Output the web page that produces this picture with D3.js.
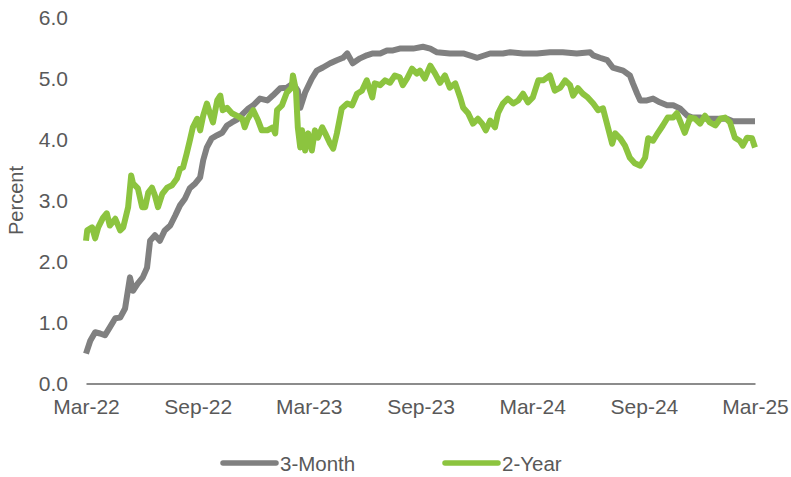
<!DOCTYPE html>
<html>
<head>
<meta charset="utf-8">
<script src="https://cdn.jsdelivr.net/npm/d3@7"></script>
<style>
  html, body { margin: 0; padding: 0; background: #fff; }
  svg text { font-family: "Liberation Sans", Arial, sans-serif; fill: #595959; }
</style>
</head>
<body>
<div id="wrapper"></div>
<script>
// 3-Month T-bill yield, percent
const threeMonth = [
  ["2022-03-31",0.49],["2022-04-07",0.70],["2022-04-15",0.84],["2022-04-23",0.82],["2022-05-01",0.79],
  ["2022-05-09",0.92],["2022-05-18",1.07],["2022-05-26",1.08],["2022-06-03",1.23],["2022-06-11",1.74],
  ["2022-06-16",1.52],["2022-06-24",1.64],["2022-07-02",1.74],["2022-07-09",1.90],["2022-07-14",2.34],
  ["2022-07-22",2.43],["2022-07-30",2.34],["2022-08-07",2.51],["2022-08-16",2.59],["2022-08-24",2.75],
  ["2022-09-01",2.92],["2022-09-09",3.03],["2022-09-17",3.20],["2022-09-26",3.28],["2022-10-04",3.38],
  ["2022-10-09",3.66],["2022-10-15",3.87],["2022-10-23",4.02],["2022-11-01",4.07],["2022-11-09",4.11],
  ["2022-11-17",4.23],["2022-11-25",4.28],["2022-12-04",4.33],["2022-12-13",4.42],["2022-12-21",4.50],
  ["2022-12-30",4.56],["2023-01-10",4.67],["2023-01-22",4.64],["2023-01-31",4.72],["2023-02-12",4.84],
  ["2023-02-23",4.85],["2023-03-05",4.92],["2023-03-13",4.80],["2023-03-17",4.52],["2023-03-25",4.77],
  ["2023-04-05",5.00],["2023-04-13",5.13],["2023-04-23",5.18],["2023-05-05",5.25],["2023-05-16",5.30],
  ["2023-05-26",5.34],["2023-06-02",5.41],["2023-06-11",5.25],["2023-06-23",5.33],["2023-07-04",5.38],
  ["2023-07-14",5.41],["2023-07-26",5.41],["2023-08-06",5.46],["2023-08-16",5.46],["2023-08-27",5.49],
  ["2023-09-08",5.49],["2023-09-18",5.49],["2023-10-04",5.52],["2023-10-16",5.49],["2023-10-27",5.43],
  ["2023-11-17",5.41],["2023-12-09",5.41],["2023-12-22",5.37],["2024-01-01",5.34],["2024-01-22",5.41],
  ["2024-02-12",5.41],["2024-02-24",5.43],["2024-03-16",5.41],["2024-04-08",5.41],["2024-04-29",5.43],
  ["2024-05-20",5.43],["2024-06-12",5.41],["2024-07-04",5.43],["2024-07-09",5.38],["2024-07-20",5.34],
  ["2024-08-01",5.30],["2024-08-10",5.18],["2024-08-27",5.13],["2024-09-07",5.05],["2024-09-12",4.92],
  ["2024-09-19",4.75],["2024-09-24",4.64],["2024-10-05",4.64],["2024-10-15",4.67],["2024-10-26",4.61],
  ["2024-11-07",4.56],["2024-11-17",4.56],["2024-11-28",4.51],["2024-12-10",4.39],["2024-12-19",4.36],
  ["2024-12-31",4.36],["2025-01-11",4.34],["2025-01-21",4.34],["2025-02-02",4.34],["2025-02-13",4.34],
  ["2025-02-23",4.30],["2025-03-06",4.30],["2025-03-31",4.30]
];

// 2-Year Treasury yield, percent
const twoYear = [
  ["2022-03-31",2.34],["2022-04-02",2.51],["2022-04-10",2.56],["2022-04-15",2.38],["2022-04-20",2.56],
  ["2022-04-28",2.72],["2022-05-04",2.79],["2022-05-09",2.59],["2022-05-18",2.70],["2022-05-26",2.51],
  ["2022-05-31",2.56],["2022-06-08",2.89],["2022-06-13",3.41],["2022-06-16",3.28],["2022-06-24",3.20],
  ["2022-07-01",2.89],["2022-07-06",2.89],["2022-07-11",3.13],["2022-07-17",3.21],["2022-07-22",3.08],
  ["2022-07-27",2.89],["2022-08-03",3.11],["2022-08-11",3.21],["2022-08-19",3.25],["2022-08-27",3.36],
  ["2022-09-01",3.52],["2022-09-06",3.54],["2022-09-12",3.77],["2022-09-17",3.98],["2022-09-22",4.20],
  ["2022-09-29",4.34],["2022-10-04",4.15],["2022-10-09",4.39],["2022-10-15",4.59],["2022-10-20",4.43],
  ["2022-10-25",4.28],["2022-11-01",4.64],["2022-11-06",4.72],["2022-11-10",4.48],["2022-11-17",4.52],
  ["2022-11-25",4.43],["2022-12-03",4.39],["2022-12-12",4.34],["2022-12-16",4.20],["2022-12-21",4.34],
  ["2022-12-30",4.48],["2023-01-07",4.31],["2023-01-13",4.15],["2023-01-22",4.15],["2023-01-31",4.20],
  ["2023-02-04",4.10],["2023-02-07",4.48],["2023-02-15",4.56],["2023-02-23",4.77],["2023-03-03",4.85],
  ["2023-03-05",5.05],["2023-03-10",4.80],["2023-03-13",4.20],["2023-03-17",3.87],["2023-03-20",4.15],
  ["2023-03-25",3.82],["2023-03-30",4.10],["2023-04-05",3.82],["2023-04-10",4.15],["2023-04-15",4.03],
  ["2023-04-22",4.20],["2023-04-27",4.10],["2023-05-05",3.93],["2023-05-10",3.85],["2023-05-16",4.10],
  ["2023-05-24",4.51],["2023-06-02",4.59],["2023-06-10",4.56],["2023-06-18",4.75],["2023-06-26",4.80],
  ["2023-07-04",4.97],["2023-07-13",4.69],["2023-07-17",4.92],["2023-07-26",4.89],["2023-08-03",4.97],
  ["2023-08-11",4.93],["2023-08-19",5.05],["2023-08-27",5.02],["2023-09-01",4.89],["2023-09-08",5.00],
  ["2023-09-16",5.16],["2023-09-24",5.08],["2023-09-29",5.13],["2023-10-07",5.00],["2023-10-16",5.21],
  ["2023-10-24",5.08],["2023-11-01",4.93],["2023-11-09",5.05],["2023-11-17",4.85],["2023-11-26",4.92],
  ["2023-12-04",4.69],["2023-12-09",4.52],["2023-12-17",4.43],["2023-12-25",4.26],["2024-01-02",4.34],
  ["2024-01-09",4.26],["2024-01-15",4.15],["2024-01-22",4.31],["2024-01-30",4.20],["2024-02-04",4.43],
  ["2024-02-12",4.59],["2024-02-20",4.67],["2024-02-29",4.59],["2024-03-08",4.64],["2024-03-16",4.75],
  ["2024-03-24",4.61],["2024-04-01",4.69],["2024-04-10",4.97],["2024-04-18",4.97],["2024-04-29",5.05],
  ["2024-05-07",4.80],["2024-05-16",4.85],["2024-05-24",4.97],["2024-06-01",4.89],["2024-06-06",4.72],
  ["2024-06-14",4.84],["2024-06-22",4.75],["2024-06-30",4.69],["2024-07-09",4.59],["2024-07-17",4.48],
  ["2024-07-25",4.51],["2024-08-02",4.20],["2024-08-09",3.93],["2024-08-14",4.10],["2024-08-22",4.02],
  ["2024-08-30",3.90],["2024-09-07",3.70],["2024-09-15",3.61],["2024-09-24",3.57],["2024-10-02",3.70],
  ["2024-10-07",4.02],["2024-10-15",3.98],["2024-10-23",4.11],["2024-10-31",4.23],["2024-11-08",4.36],
  ["2024-11-17",4.36],["2024-11-23",4.43],["2024-11-28",4.31],["2024-12-06",4.11],["2024-12-15",4.36],
  ["2024-12-23",4.34],["2024-12-31",4.26],["2025-01-08",4.39],["2025-01-16",4.28],["2025-01-25",4.23],
  ["2025-02-02",4.34],["2025-02-10",4.36],["2025-02-18",4.28],["2025-02-26",4.03],["2025-03-06",3.98],
  ["2025-03-11",3.90],["2025-03-18",4.03],["2025-03-26",4.02],["2025-03-31",3.87]
];

const xTickDates = ["2022-03-31","2022-09-30","2023-03-31","2023-09-30","2024-03-31","2024-09-30","2025-03-31"];
const yTicks = [0, 1, 2, 3, 4, 5, 6];
const seriesNames = ["3-Month", "2-Year"];
const seriesColors = ["#808080", "#8cc43f"];

const parseDate = d3.timeParse("%Y-%m-%d");
const width = 791, height = 477;
const margin = { top: 17.5, right: 36, bottom: 93.5, left: 86 };

const svg = d3.select("#wrapper").append("svg")
  .attr("width", width)
  .attr("height", height);

const x = d3.scaleTime()
  .domain([parseDate(xTickDates[0]), parseDate(xTickDates[xTickDates.length - 1])])
  .range([margin.left, width - margin.right]);

const y = d3.scaleLinear()
  .domain([0, 6])
  .range([height - margin.bottom, margin.top]);

// y-axis labels (no line, no ticks)
const yAxis = svg.append("g")
  .attr("transform", `translate(${margin.left - 18},0)`)
  .call(d3.axisLeft(y).tickValues(yTicks).tickFormat(d3.format(".1f")).tickSize(0).tickPadding(0));
yAxis.select(".domain").remove();
yAxis.selectAll("text").style("font-size", "21px").style("font-family", null).attr("fill", null);

// x-axis
const xAxis = svg.append("g")
  .attr("transform", `translate(0,${height - margin.bottom})`)
  .call(d3.axisBottom(x).tickValues(xTickDates.map(parseDate)).tickFormat(d3.timeFormat("%b-%y")).tickSize(0).tickPadding(16));
xAxis.select(".domain").attr("stroke", "#8c8c8c").attr("stroke-width", 2);
xAxis.selectAll("text").style("font-size", "21px").style("font-family", null).attr("fill", null);

svg.append("text")
  .attr("transform", `translate(23,${(margin.top + height - margin.bottom) / 2}) rotate(-90)`)
  .attr("text-anchor", "middle")
  .style("font-size", "20px")
  .text("Percent");

// lines
const line = d3.line()
  .x((d) => x(parseDate(d[0])))
  .y((d) => y(d[1]));

[threeMonth, twoYear].forEach((data, i) => {
  svg.append("path")
    .datum(data)
    .attr("fill", "none")
    .attr("stroke", seriesColors[i])
    .attr("stroke-width", 6)
    .attr("stroke-linejoin", "round")
    .attr("d", line);
});

// legend
const legendX = [223, 445];
const legend = svg.selectAll(".legend")
  .data(seriesNames)
  .enter()
  .append("g")
  .attr("class", "legend")
  .attr("transform", (d, i) => `translate(${legendX[i]},463)`);
legend.append("line")
  .attr("x1", 0).attr("x2", 53)
  .attr("stroke", (d, i) => seriesColors[i])
  .attr("stroke-width", 5.5)
  .attr("stroke-linecap", "round");
legend.append("text")
  .attr("x", 57)
  .attr("y", 8)
  .style("font-size", "20.5px")
  .text((d) => d);
</script>
</body>
</html>
